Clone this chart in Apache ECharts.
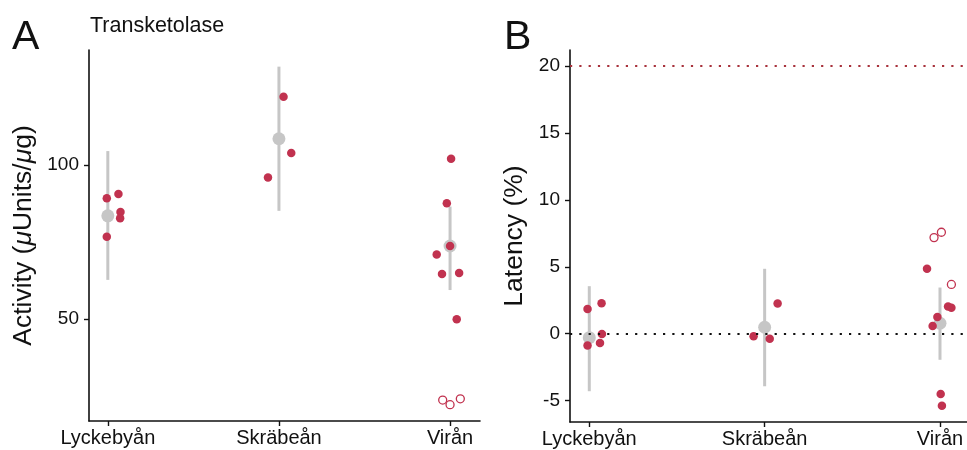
<!DOCTYPE html>
<html>
<head>
<meta charset="utf-8">
<script src="https://cdn.jsdelivr.net/npm/echarts@6/dist/echarts.min.js"></script>
<style>
  html, body { margin: 0; padding: 0; background: #fff; }
  #container { width: 967px; height: 450px; }
</style>
</head>
<body>
<div id="container"></div>
<script>
// sites (x categories, shared by both panels)
var sites = ['Lyckebyån', 'Skräbeån', 'Virån']

// panel A: transketolase activity, one row per sample: [site index, jitter, value]
var actDots = [
  [0, -0.006, 89.2], [0, 0.062, 90.6], [0, 0.074, 84.7], [0, 0.072, 82.7], [0, -0.006, 76.7],
  [1, 0.027, 122.1], [1, 0.072, 103.9], [1, -0.064, 95.9],
  [2, 0.006, 102.0], [2, -0.019, 87.6], [2, 0.0, 73.7], [2, -0.078, 70.9],
  [2, -0.047, 64.6], [2, 0.053, 64.9], [2, 0.039, 49.9]
]
var actOpen = [[2, -0.043, 23.7], [2, 0.0, 22.2], [2, 0.060, 24.1]]
var actMean = [83.5, 108.5, 73.7]
var actLow = [62.7, 85.1, 59.4]
var actHigh = [104.5, 131.9, 86.5]
var actTicks = [50, 100]

// panel B: latency (%)
var latDots = [
  [0, -0.01, 1.85], [0, 0.07, 2.28], [0, 0.072, -0.03], [0, 0.061, -0.7], [0, -0.01, -0.88],
  [1, 0.074, 2.25], [1, -0.063, -0.2], [1, 0.029, -0.38],
  [2, -0.074, 4.85], [2, -0.015, 1.25], [2, -0.042, 0.58], [2, 0.046, 2.03],
  [2, 0.065, 1.93], [2, 0.004, -4.5], [2, 0.011, -5.38]
]
var latOpen = [[2, -0.034, 7.18], [2, 0.008, 7.58], [2, 0.065, 3.68]]
var latMean = [-0.3, 0.48, 0.78]
var latLow = [-4.3, -3.93, -1.95]
var latHigh = [3.55, 4.85, 3.45]
var latTicks = [-5, 0, 5, 10, 15, 20]
var latLimit = 20

var red = '#c1324f'
var grey = '#c6c6c6'
var font = 'Liberation Sans, Arial, Helvetica, sans-serif'

function pts(rows){
  return rows.map(function(r){ return [r[0] + 1 + r[1], r[2]] })
}
function bars(low, high){
  return low.map(function(l, i){ return [i + 1, l, high[i]] })
}
function means(m){
  return m.map(function(v, i){ return [i + 1, v] })
}

function errBar(api){
  var top = api.coord([api.value(0), api.value(2)])
  var bot = api.coord([api.value(0), api.value(1)])
  return {
    type: 'line',
    shape: { x1: top[0], y1: top[1], x2: bot[0], y2: bot[1] },
    style: { stroke: grey, lineWidth: 3 }
  }
}

function xAxis(grid, max){
  return {
    type: 'value', gridIndex: grid, min: 0.89, max: max,
    splitLine: { show: false },
    axisLine: { onZero: false, lineStyle: { color: '#111', width: 1.6 } },
    axisTick: { customValues: [1, 2, 3], length: 5, lineStyle: { color: '#111', width: 1.4 } },
    axisLabel: {
      customValues: [1, 2, 3], margin: 7, color: '#111', fontSize: 20, fontFamily: font,
      formatter: function(v){ return sites[Math.round(v) - 1] }
    }
  }
}

function yAxis(grid, min, max, ticks, name, gap, rich){
  return {
    type: 'value', gridIndex: grid, min: min, max: max,
    name: name, nameLocation: 'middle', nameGap: gap,
    nameTextStyle: { fontSize: 26.5, color: '#111', fontFamily: font, rich: rich },
    splitLine: { show: false },
    axisLine: { show: true, onZero: false, lineStyle: { color: '#111', width: 1.6 } },
    axisTick: { show: true, customValues: ticks, length: 5, lineStyle: { color: '#111', width: 1.4 } },
    axisLabel: { customValues: ticks, margin: 10, color: '#111', fontSize: 19, fontFamily: font }
  }
}

function dotSeries(xi, data){
  return {
    type: 'scatter', xAxisIndex: xi, yAxisIndex: xi, data: data,
    symbolSize: 8.5, itemStyle: { color: red, opacity: 1 }, z: 4
  }
}
function openSeries(xi, data){
  return {
    type: 'scatter', xAxisIndex: xi, yAxisIndex: xi, data: data,
    symbolSize: 8, itemStyle: { color: '#fff', borderColor: red, borderWidth: 1.3, opacity: 1 }, z: 4
  }
}
function meanSeries(xi, data){
  return {
    type: 'scatter', xAxisIndex: xi, yAxisIndex: xi, data: data,
    symbolSize: 13, itemStyle: { color: grey, opacity: 1 }, z: 3
  }
}
function barSeries(xi, data){
  return {
    type: 'custom', xAxisIndex: xi, yAxisIndex: xi, data: data,
    renderItem: function(params, api){ return errBar(api) }, z: 2
  }
}

var myChart = echarts.init(document.getElementById('container'), null, { renderer: 'canvas' })

var option = {
  animation: false,
  backgroundColor: '#fff',
  textStyle: { fontFamily: font },
  graphic: [
    { type: 'text', left: 12, top: 17, style: { text: 'A', font: '41px ' + font, fill: '#111' } },
    { type: 'text', left: 90, top: 15, style: { text: 'Transketolase', font: '21.5px ' + font, fill: '#111' } },
    { type: 'text', left: 504, top: 17, style: { text: 'B', font: '41px ' + font, fill: '#111' } }
  ],
  grid: [
    { left: 89, right: 487, top: 50, bottom: 29 },
    { left: 570, right: 0, top: 50, bottom: 28 }
  ],
  xAxis: [xAxis(0, 3.175), xAxis(1, 3.154)],
  yAxis: [
    yAxis(0, 16.9, 137.3, actTicks, 'Activity ({i|μ}Units/{i|μ}g)', 52,
      { i: { fontSize: 26.5, fontStyle: 'italic', color: '#111', fontFamily: font } }),
    yAxis(1, -6.6, 21.2, latTicks, 'Latency (%)', 42, null)
  ],
  series: [
    barSeries(0, bars(actLow, actHigh)),
    meanSeries(0, means(actMean)),
    dotSeries(0, pts(actDots)),
    openSeries(0, pts(actOpen)),
    {
      type: 'line', xAxisIndex: 1, yAxisIndex: 1, data: [], silent: true,
      markLine: {
        silent: true, symbol: 'none', label: { show: false },
        data: [
          { yAxis: latLimit, lineStyle: { color: '#a8323c', type: [2.2, 7.1], width: 2.2 } },
          { yAxis: 0, lineStyle: { color: '#111', type: [2.2, 7.1], width: 2.2 } }
        ]
      }
    },
    barSeries(1, bars(latLow, latHigh)),
    meanSeries(1, means(latMean)),
    dotSeries(1, pts(latDots)),
    openSeries(1, pts(latOpen))
  ]
}

if (option && typeof option === "object") {
  myChart.setOption(option, true)
}
</script>
</body>
</html>
